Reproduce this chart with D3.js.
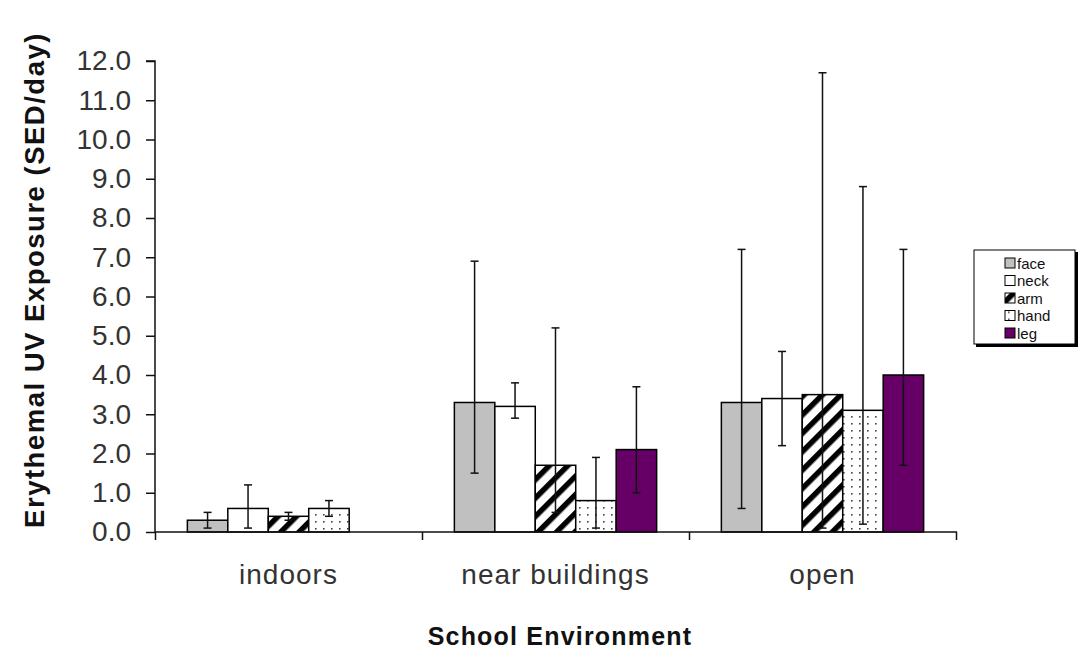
<!DOCTYPE html>
<html lang="en">
<head>
  <meta charset="UTF-8">
  <title>Erythemal UV exposure by school environment</title>
  <style>
    body { margin: 0; background: #fff; }
    svg text { font-family: "Liberation Sans", Arial, sans-serif; }
  </style>
</head>
<body>
  <script src="https://d3js.org/d3.v7.min.js"></script>
  <div id="chart"></div>

  <script>
    // data
    const environments = ['indoors', 'near buildings', 'open']
    const sites = ['face', 'neck', 'arm', 'hand', 'leg']
    const yTicks = [0, 1, 2, 3, 4, 5, 6, 7, 8, 9, 10, 11, 12]

    // mean exposure, one array per site (indoors, near buildings, open)
    const face = [0.3, 3.3, 3.3]
    const neck = [0.6, 3.2, 3.4]
    const arm  = [0.4, 1.7, 3.5]
    const hand = [0.6, 0.8, 3.1]
    const leg  = [0.0, 2.1, 4.0]

    // error bar ends (low / high)
    const faceLow  = [0.1, 1.5, 0.6],  faceHigh = [0.5, 6.9, 7.2]
    const neckLow  = [0.1, 2.9, 2.2],  neckHigh = [1.2, 3.8, 4.6]
    const armLow   = [0.3, 0.5, 0.1],  armHigh  = [0.5, 5.2, 11.7]
    const handLow  = [0.4, 0.1, 0.2],  handHigh = [0.8, 1.9, 8.8]
    const legLow   = [null, 1.0, 1.7], legHigh  = [null, 3.7, 7.2]

    const means = { face, neck, arm, hand, leg }
    const lows  = { face: faceLow, neck: neckLow, arm: armLow, hand: handLow, leg: legLow }
    const highs = { face: faceHigh, neck: neckHigh, arm: armHigh, hand: handHigh, leg: legHigh }

    const rows = []
    environments.forEach((env, i) => {
      sites.forEach(s => {
        rows.push({ env, site: s, value: means[s][i], lo: lows[s][i], hi: highs[s][i] })
      })
    })

    const svg = d3.select('#chart')
      .append('svg')
      .attr('width', 1078)
      .attr('height', 650)

    // patterns
    const defs = svg.append('defs')
    const hatch = defs.append('pattern')
      .attr('id', 'hatch')
      .attr('patternUnits', 'userSpaceOnUse')
      .attr('width', 13).attr('height', 13)
      .attr('patternTransform', 'rotate(45)')
    hatch.append('rect').attr('width', 13).attr('height', 13).attr('fill', '#fff')
    hatch.append('rect').attr('width', 5.5).attr('height', 13).attr('fill', '#000')

    const dots = defs.append('pattern')
      .attr('id', 'dots')
      .attr('patternUnits', 'userSpaceOnUse')
      .attr('width', 8).attr('height', 7)
    dots.append('rect').attr('width', 8).attr('height', 7).attr('fill', '#fff')
    dots.append('rect').attr('x', 3).attr('y', 3).attr('width', 1.6).attr('height', 1.6).attr('fill', '#444')

    const fills = {
      face: '#c0c0c0',
      neck: '#ffffff',
      arm: 'url(#hatch)',
      hand: 'url(#dots)',
      leg: '#660066'
    }

    const plotLeft = 155, plotRight = 956, plotTop = 61, plotBottom = 532

    const x = d3.scaleBand()
      .domain(environments)
      .range([plotLeft, plotRight])
      .padding(0)

    const xSite = d3.scaleBand()
      .domain(sites)
      .range([0, x.bandwidth()])
      .paddingInner(0)
      .paddingOuter(0.8)

    const y = d3.scaleLinear()
      .domain([0, 12])
      .range([plotBottom, plotTop])

    // bars
    svg.append('g')
      .selectAll('rect')
      .data(rows.filter(d => d.value > 0))
      .join('rect')
      .attr('x', d => x(d.env) + xSite(d.site))
      .attr('y', d => y(d.value))
      .attr('width', xSite.bandwidth())
      .attr('height', d => y(0) - y(d.value))
      .attr('fill', d => fills[d.site])
      .attr('stroke', '#000')
      .attr('stroke-width', 1.5)

    // error bars
    const err = svg.append('g')
      .selectAll('g')
      .data(rows.filter(d => d.lo != null))
      .join('g')
      .attr('stroke', '#111')
      .attr('stroke-width', 1.5)
    const cx = d => x(d.env) + xSite(d.site) + xSite.bandwidth() / 2
    err.append('line')
      .attr('x1', cx).attr('x2', cx)
      .attr('y1', d => y(d.lo)).attr('y2', d => y(d.hi))
    err.append('line')
      .attr('x1', d => cx(d) - 4).attr('x2', d => cx(d) + 4)
      .attr('y1', d => y(d.hi)).attr('y2', d => y(d.hi))
    err.append('line')
      .attr('x1', d => cx(d) - 4).attr('x2', d => cx(d) + 4)
      .attr('y1', d => y(d.lo)).attr('y2', d => y(d.lo))

    // y axis
    const yAxis = svg.append('g')
      .attr('transform', `translate(${plotLeft},0)`)
      .call(d3.axisLeft(y).tickValues(yTicks).tickFormat(d3.format('.1f')).tickSize(9).tickPadding(15))
    yAxis.select('.domain').attr('stroke', '#111').attr('stroke-width', 1.5).attr('d', `M-9,${plotTop}H0V${plotBottom}`)
    yAxis.selectAll('.tick line').attr('stroke', '#111').attr('stroke-width', 1.5)
    yAxis.selectAll('text').attr('font-size', 28).attr('fill', '#333')

    // x axis: boundary ticks plus centred labels
    const xEdge = d3.scaleLinear().domain([0, environments.length]).range([plotLeft, plotRight])
    const xTicks = svg.append('g')
      .attr('transform', `translate(0,${plotBottom})`)
      .call(d3.axisBottom(xEdge).tickValues(d3.range(environments.length + 1)).tickFormat('').tickSize(8))
    xTicks.select('.domain').attr('stroke', '#111').attr('stroke-width', 1.5).attr('d', `M${plotLeft},0H${plotRight + 1}`)
    xTicks.selectAll('.tick line').attr('stroke', '#111').attr('stroke-width', 1.5)

    const xLabels = svg.append('g')
      .attr('transform', `translate(0,${plotBottom})`)
      .call(d3.axisBottom(x).tickSize(0).tickPadding(32))
    xLabels.select('.domain').remove()
    xLabels.selectAll('text').attr('font-size', 28).attr('fill', '#333').attr('letter-spacing', 1)

    // axis titles
    svg.append('text')
      .attr('x', 560).attr('y', 645)
      .attr('text-anchor', 'middle')
      .attr('font-size', 25).attr('font-weight', 'bold')
      .attr('letter-spacing', 1.2)
      .attr('fill', '#111')
      .text('School Environment')

    svg.append('text')
      .attr('transform', 'translate(44,280) rotate(-90)')
      .attr('text-anchor', 'middle')
      .attr('font-size', 27.5).attr('font-weight', 'bold')
      .attr('letter-spacing', 1.5)
      .attr('fill', '#111')
      .text('Erythemal UV Exposure (SED/day)')

    // legend
    const legend = svg.append('g').attr('transform', 'translate(974,250)')
    legend.append('rect')
      .attr('x', 2).attr('y', 2).attr('width', 102).attr('height', 95)
      .attr('fill', '#000')
    legend.append('rect')
      .attr('width', 101).attr('height', 94)
      .attr('fill', '#fff').attr('stroke', '#000').attr('stroke-width', 1)
    const item = legend.selectAll('g.item')
      .data(sites)
      .join('g')
      .attr('class', 'item')
      .attr('transform', (d, i) => `translate(31,${13 + i * 17.5})`)
    item.append('rect')
      .attr('x', 0).attr('y', -5).attr('width', 10).attr('height', 10)
      .attr('fill', d => fills[d])
      .attr('stroke', '#000').attr('stroke-width', 1)
    item.append('text')
      .attr('x', 12).attr('y', 5.5)
      .attr('font-size', 15)
      .attr('fill', '#111')
      .text(d => d)
  </script>
</body>
</html>
